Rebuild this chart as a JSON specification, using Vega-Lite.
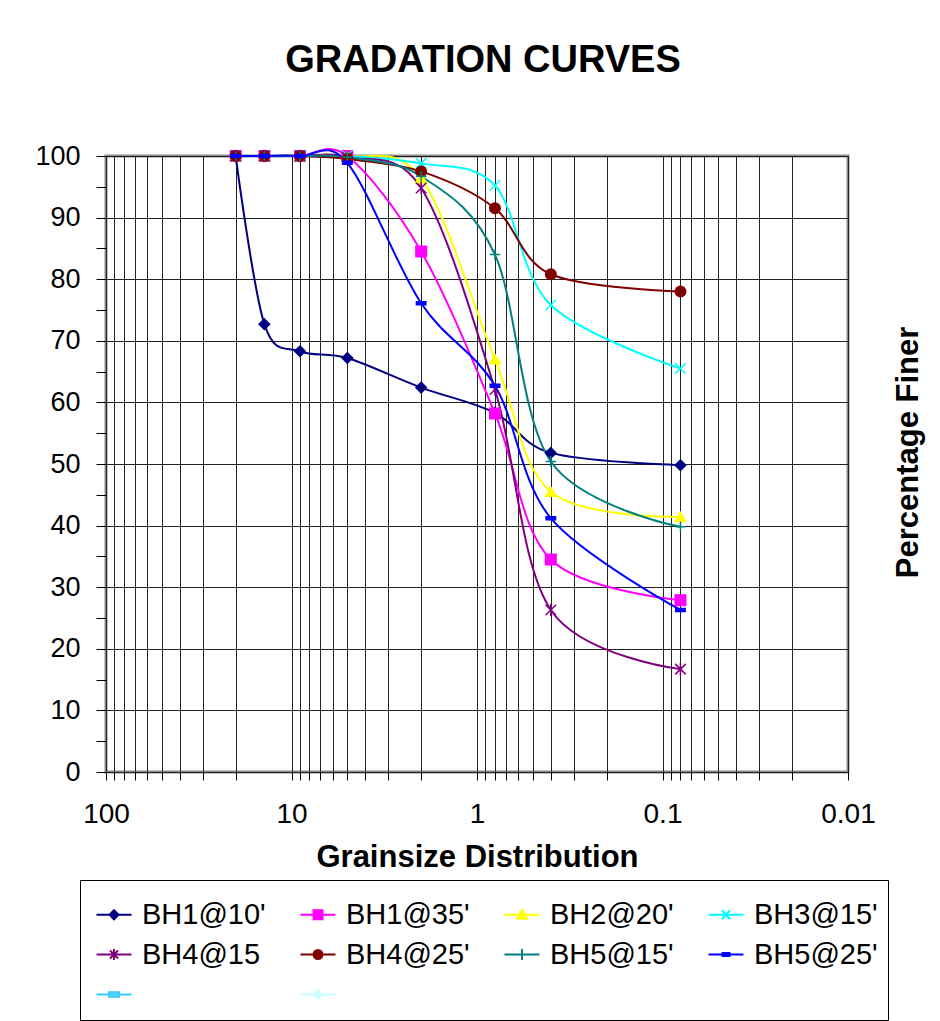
{
  "$schema": "https://vega.github.io/schema/vega-lite/v6.json",
  "width": 742,
  "height": 616,
  "autosize": {"type": "none"},
  "padding": {"left": 106, "top": 156, "right": 92, "bottom": 249},
  "background": "white",
  "config": {
    "font": "Liberation Sans",
    "view": {"stroke": "#8c8c8c", "strokeWidth": 3}
  },
  "title": {"text": "GRADATION CURVES", "fontSize": 38, "fontWeight": "bold", "color": "black", "offset": 62, "dx": 6, "font": "Liberation Sans"},
  "data": {"values": [
    {"series": "BH1@10'", "size": 20, "pct": 100},
    {"series": "BH1@10'", "size": 14, "pct": 72.7},
    {"series": "BH1@10'", "size": 9, "pct": 68.3},
    {"series": "BH1@10'", "size": 5, "pct": 67.2},
    {"series": "BH1@10'", "size": 2, "pct": 62.4},
    {"series": "BH1@10'", "size": 0.8, "pct": 58.3},
    {"series": "BH1@10'", "size": 0.4, "pct": 51.8},
    {"series": "BH1@10'", "size": 0.08, "pct": 49.8},
    {"series": "BH1@35'", "size": 20, "pct": 100},
    {"series": "BH1@35'", "size": 14, "pct": 100},
    {"series": "BH1@35'", "size": 9, "pct": 100},
    {"series": "BH1@35'", "size": 5, "pct": 100},
    {"series": "BH1@35'", "size": 2, "pct": 84.5},
    {"series": "BH1@35'", "size": 0.8, "pct": 58.2},
    {"series": "BH1@35'", "size": 0.4, "pct": 34.5},
    {"series": "BH1@35'", "size": 0.08, "pct": 27.9},
    {"series": "BH2@20'", "size": 20, "pct": 100},
    {"series": "BH2@20'", "size": 14, "pct": 100},
    {"series": "BH2@20'", "size": 9, "pct": 100},
    {"series": "BH2@20'", "size": 5, "pct": 100},
    {"series": "BH2@20'", "size": 2, "pct": 96.4},
    {"series": "BH2@20'", "size": 0.8, "pct": 67.0},
    {"series": "BH2@20'", "size": 0.4, "pct": 45.5},
    {"series": "BH2@20'", "size": 0.08, "pct": 41.4},
    {"series": "BH3@15'", "size": 20, "pct": 100},
    {"series": "BH3@15'", "size": 14, "pct": 100},
    {"series": "BH3@15'", "size": 9, "pct": 100},
    {"series": "BH3@15'", "size": 5, "pct": 100},
    {"series": "BH3@15'", "size": 2, "pct": 98.8},
    {"series": "BH3@15'", "size": 0.8, "pct": 95.2},
    {"series": "BH3@15'", "size": 0.4, "pct": 75.8},
    {"series": "BH3@15'", "size": 0.08, "pct": 65.5},
    {"series": "BH4@15", "size": 20, "pct": 100},
    {"series": "BH4@15", "size": 14, "pct": 100},
    {"series": "BH4@15", "size": 9, "pct": 100},
    {"series": "BH4@15", "size": 5, "pct": 99.8},
    {"series": "BH4@15", "size": 2, "pct": 94.8},
    {"series": "BH4@15", "size": 0.8, "pct": 62.1},
    {"series": "BH4@15", "size": 0.4, "pct": 26.3},
    {"series": "BH4@15", "size": 0.08, "pct": 16.7},
    {"series": "BH4@25'", "size": 20, "pct": 100},
    {"series": "BH4@25'", "size": 14, "pct": 100},
    {"series": "BH4@25'", "size": 9, "pct": 100},
    {"series": "BH4@25'", "size": 5, "pct": 99.5},
    {"series": "BH4@25'", "size": 2, "pct": 97.5},
    {"series": "BH4@25'", "size": 0.8, "pct": 91.5},
    {"series": "BH4@25'", "size": 0.4, "pct": 80.8},
    {"series": "BH4@25'", "size": 0.08, "pct": 78.0},
    {"series": "BH5@15'", "size": 20, "pct": 100},
    {"series": "BH5@15'", "size": 14, "pct": 100},
    {"series": "BH5@15'", "size": 9, "pct": 100},
    {"series": "BH5@15'", "size": 5, "pct": 99.8},
    {"series": "BH5@15'", "size": 2, "pct": 96.7},
    {"series": "BH5@15'", "size": 0.8, "pct": 84.0},
    {"series": "BH5@15'", "size": 0.4, "pct": 50.4},
    {"series": "BH5@15'", "size": 0.08, "pct": 39.8},
    {"series": "BH5@25'", "size": 20, "pct": 100},
    {"series": "BH5@25'", "size": 14, "pct": 100},
    {"series": "BH5@25'", "size": 9, "pct": 100},
    {"series": "BH5@25'", "size": 5, "pct": 98.9},
    {"series": "BH5@25'", "size": 2, "pct": 76.1},
    {"series": "BH5@25'", "size": 0.8, "pct": 62.7},
    {"series": "BH5@25'", "size": 0.4, "pct": 41.2},
    {"series": "BH5@25'", "size": 0.08, "pct": 26.3}
  ]},
  "encoding": {
    "x": {
      "field": "size", "type": "quantitative",
      "scale": {"type": "log", "domain": [0.01, 100], "reverse": true, "nice": false},
      "axis": {
        "title": "Grainsize Distribution",
        "titleFontSize": 31, "titleFontWeight": "bold", "titleColor": "black", "titlePadding": 14,
        "values": [100, 90, 80, 70, 60, 50, 40, 30, 20, 10, 9, 8, 7, 6, 5, 4, 3, 2, 1, 0.9, 0.8, 0.7, 0.6, 0.5, 0.4, 0.3, 0.2, 0.1, 0.09, 0.08, 0.07, 0.06, 0.05, 0.04, 0.03, 0.02, 0.01],
        "format": "~g",
        "labelExpr": "(datum.value == 100 || datum.value == 10 || datum.value == 1 || datum.value == 0.1 || datum.value == 0.01) ? datum.label : ''",
        "labelFontSize": 28, "labelColor": "black", "labelPadding": 20, "labelFlush": false, "labelOverlap": false,
        "tickSize": 8, "tickColor": "black", "tickWidth": 1,
        "domain": false,
        "grid": true, "gridColor": "#222222", "gridWidth": 1
      }
    },
    "y": {
      "field": "pct", "type": "quantitative",
      "scale": {"domain": [0, 100], "nice": false},
      "axis": {
        "title": "Percentage Finer",
        "titleFontSize": 31, "titleFontWeight": "bold", "titleColor": "black",
        "titleAngle": -90, "titleX": 802, "titleY": 296, "titleAlign": "center", "titleBaseline": "middle",
        "values": [0, 5, 10, 15, 20, 25, 30, 35, 40, 45, 50, 55, 60, 65, 70, 75, 80, 85, 90, 95, 100],
        "labelExpr": "datum.value % 10 == 0 ? datum.label : ''",
        "labelFontSize": 27, "labelColor": "black", "labelPadding": 16, "labelFlush": false, "labelOverlap": false,
        "tickSize": 10, "tickColor": "black", "tickWidth": 1,
        "domain": false,
        "grid": true, "gridColor": "#222222", "gridWidth": 1,
        "gridOpacity": {"condition": {"test": "datum.value % 10 == 0", "value": 1}, "value": 0}
      }
    }
  },
  "layer": [
    {
      "mark": {"type": "line", "interpolate": "cardinal", "tension": 0, "strokeWidth": 2},
      "encoding": {
        "color": {"field": "series", "type": "nominal",
          "scale": {"domain": ["BH1@10'", "BH1@35'", "BH2@20'", "BH3@15'", "BH4@15", "BH4@25'", "BH5@15'", "BH5@25'", "x1", "x2"],
                    "range": ["#000080", "#ff00ff", "#ffff00", "#00ffff", "#800080", "#800000", "#008080", "#0000ff", "#33ccff", "#ccffff"]},
          "legend": null}
      }
    },
    {
      "mark": {"type": "point", "filled": true, "size": 110, "strokeWidth": 1.5, "opacity": 1},
      "encoding": {
        "fill": {"field": "series", "type": "nominal",
          "scale": {"domain": ["BH1@10'", "BH1@35'", "BH2@20'", "BH3@15'", "BH4@15", "BH4@25'", "BH5@15'", "BH5@25'", "x1", "x2"],
                    "range": ["#000080", "#ff00ff", "#ffff00", "#00ffff", "#800080", "#800000", "#008080", "#0000ff", "#33ccff", "#ccffff"]},
          "legend": null},
        "stroke": {"field": "series", "type": "nominal",
          "scale": {"domain": ["BH1@10'", "BH1@35'", "BH2@20'", "BH3@15'", "BH4@15", "BH4@25'", "BH5@15'", "BH5@25'", "x1", "x2"],
                    "range": ["#000080", "#ff00ff", "#ffff00", "#00ffff", "#800080", "#800000", "#008080", "#0000ff", "#33ccff", "#ccffff"]},
          "legend": null},
        "shape": {"field": "series", "type": "nominal",
          "scale": {"domain": ["BH1@10'", "BH1@35'", "BH2@20'", "BH3@15'", "BH4@15", "BH4@25'", "BH5@15'", "BH5@25'", "x1", "x2"],
                    "range": ["M0,-1L1,0L0,1L-1,0Z", "square", "triangle-up", "M-1,-1L1,1M-1,1L1,-1", "M-1,-1L1,1M-1,1L1,-1M0,-1.2L0,1.2", "circle", "M-1,0L1,0M0,-1L0,1", "M-0.9,-0.3H0.9V0.3H-0.9Z", "M-1,-0.35H1V0.35H-1Z", "M0,-1L1,0L0,1L-1,0Z"]},
          "legend": null}
      }
    },
    {
      "mark": {"type": "point", "filled": true, "opacity": 0},
      "encoding": {
        "fill": {"field": "series", "type": "nominal",
          "scale": {"domain": ["BH1@10'", "BH1@35'", "BH2@20'", "BH3@15'", "BH4@15", "BH4@25'", "BH5@15'", "BH5@25'", "x1", "x2"],
                    "range": ["#000080", "#ff00ff", "#ffff00", "#00ffff", "#800080", "#800000", "#008080", "#0000ff", "#33ccff", "#ccffff"]}},
        "stroke": {"field": "series", "type": "nominal",
          "scale": {"domain": ["BH1@10'", "BH1@35'", "BH2@20'", "BH3@15'", "BH4@15", "BH4@25'", "BH5@15'", "BH5@25'", "x1", "x2"],
                    "range": ["#000080", "#ff00ff", "#ffff00", "#00ffff", "#800080", "#800000", "#008080", "#0000ff", "#33ccff", "#ccffff"]}},
        "shape": {"field": "series", "type": "nominal",
          "scale": {"domain": ["BH1@10'", "BH1@35'", "BH2@20'", "BH3@15'", "BH4@15", "BH4@25'", "BH5@15'", "BH5@25'", "x1", "x2"],
                    "range": [
                      "M-1,0H2.5M0.75,-0.45L1.2,0L0.75,0.45L0.3,0ZM0.75,-0.27L1.02,0L0.75,0.27L0.48,0ZM0.75,-0.45V0.45",
                      "M-1,0H2.5M0.3,-0.45H1.2V0.45H0.3ZM0.48,-0.27H1.02V0.27H0.48ZM0.66,-0.09H0.84V0.09H0.66Z",
                      "M-1,0H2.5M0.75,-0.5L1.25,0.4H0.25ZM0.75,-0.26L1.05,0.28H0.45ZM0.75,-0.4V0.38",
                      "M-1,0H2.5M0.35,-0.45L1.15,0.45M0.35,0.45L1.15,-0.45",
                      "M-1,0H2.5M0.35,-0.4L1.15,0.4M0.35,0.4L1.15,-0.4M0.75,-0.55V0.55",
                      "M-1,0H2.5M1.2,0A0.45,0.45,0,1,1,0.3,0A0.45,0.45,0,1,1,1.2,0ZM1.02,0A0.27,0.27,0,1,1,0.48,0A0.27,0.27,0,1,1,1.02,0ZM0.84,0A0.09,0.09,0,1,1,0.66,0A0.09,0.09,0,1,1,0.84,0Z",
                      "M-1,0H2.5M0.75,-0.55V0.55",
                      "M-1,0H2.5M0.4,-0.15H1.1V0.15H0.4Z",
                      "M-1,0H2.5M0.25,-0.22H1.25V0.22H0.25Z",
                      "M-1,0H2.5M0.75,-0.45L1.2,0L0.75,0.45L0.3,0ZM0.75,-0.27L1.02,0L0.75,0.27L0.48,0ZM0.75,-0.45V0.45"
                    ]},
          "legend": {
            "title": " ", "titleFontSize": 4, "titlePadding": 6,
            "orient": "none", "legendX": -26, "legendY": 724,
            "direction": "horizontal", "columns": 4, "gridAlign": "all",
            "strokeColor": "black", "fillColor": "white", "padding": 10,
            "labelFont": "Liberation Sans", "labelFontSize": 29, "labelColor": "black", "labelOffset": 21,
            "symbolSize": 400, "symbolStrokeWidth": 2, "symbolOffset": 2, "columnPadding": 28, "rowPadding": 10,
            "labelExpr": "indexof(datum.label, 'BH') == 0 ? datum.label : ''",
            "encode": {"symbols": {
              "opacity": {"value": 1}, "fillOpacity": {"value": 1}, "strokeOpacity": {"value": 1}
            }}
          }
        }
      }
    }
  ],
  "resolve": {"scale": {"shape": "independent", "fill": "independent", "stroke": "independent"}}
}
